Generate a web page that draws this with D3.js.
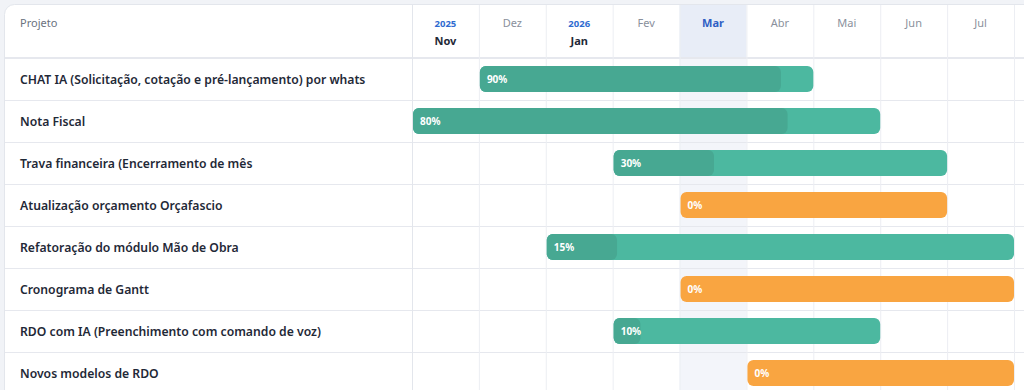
<!DOCTYPE html>
<html>
<head>
<meta charset="utf-8">
<script src="https://cdn.jsdelivr.net/npm/d3@7"></script>
<style>
  html, body { margin: 0; padding: 0; background: #f1f3f7; overflow: hidden; }
  svg { display: block; font-family: "Noto Sans", "Open Sans", sans-serif; }
</style>
</head>
<body>
<svg id="chart"></svg>
<script>
var width = 1024;
var height = 390;

// months shown on the timeline (index 0 = Nov 2025)
var months = ["Nov", "Dez", "Jan", "Fev", "Mar", "Abr", "Mai", "Jun", "Jul"];
var yearMarks = { 0: "2025", 2: "2026" };
var currentMonth = 4; // Mar

var projects = [
    "CHAT IA (Solicitação, cotação e pré-lançamento) por whats",
    "Nota Fiscal",
    "Trava financeira (Encerramento de mês",
    "Atualização orçamento Orçafascio",
    "Refatoração do módulo Mão de Obra",
    "Cronograma de Gantt",
    "RDO com IA (Preenchimento com comando de voz)",
    "Novos modelos de RDO"
];
// start / end as month index (end exclusive)
var startMonth = [1, 0, 3, 4, 2, 4, 3, 5];
var endMonth   = [6, 7, 8, 8, 9, 9, 7, 9];
var progress   = [90, 80, 30, 0, 15, 0, 10, 0];

var labelW = 412;
var headerTop = 4;
var headerBottom = 58;
var rowH = 42;

var svg = d3.select("#chart").attr("width", width).attr("height", height);

var x = d3.scaleLinear().domain([0, 9]).range([labelW, 1014]);
var y = d3.scaleBand().domain(projects).range([headerBottom, headerBottom + rowH * projects.length]);

// card
svg.append("rect")
    .attr("x", 4.5).attr("y", headerTop + 0.5)
    .attr("width", 1040).attr("height", 420)
    .attr("rx", 10)
    .attr("fill", "#fff")
    .attr("stroke", "#e3e6ec");

// current month highlight
svg.append("rect")
    .attr("x", x(currentMonth)).attr("y", headerTop + 1)
    .attr("width", x(currentMonth + 1) - x(currentMonth))
    .attr("height", headerBottom - headerTop - 1)
    .attr("fill", "#e8edf7");
svg.append("rect")
    .attr("x", x(currentMonth)).attr("y", headerBottom)
    .attr("width", x(currentMonth + 1) - x(currentMonth))
    .attr("height", height - headerBottom)
    .attr("fill", "#f3f5fa");

// horizontal row lines
svg.selectAll(".rowline")
    .data(projects)
    .enter()
    .append("line")
    .attr("class", "rowline")
    .attr("x1", 5).attr("x2", width)
    .attr("y1", function (d) { return y(d) + rowH + 0.5; })
    .attr("y2", function (d) { return y(d) + rowH + 0.5; })
    .attr("stroke", "#e6e8ee");

svg.append("line")
    .attr("x1", 5).attr("x2", width)
    .attr("y1", headerBottom).attr("y2", headerBottom)
    .attr("stroke", "#e6e8ee").attr("stroke-width", 2);

// vertical month lines (one extra for the clipped column on the right)
svg.selectAll(".colline")
    .data(d3.range(0, months.length + 1))
    .enter()
    .append("line")
    .attr("class", "colline")
    .attr("x1", function (d) { return x(d) + 0.5; })
    .attr("x2", function (d) { return x(d) + 0.5; })
    .attr("y1", headerTop + 1).attr("y2", height)
    .attr("stroke", function (d) { return d === 0 ? "#e3e6ec" : "#eceef3"; });

// header
svg.append("text")
    .attr("x", 20).attr("y", 27)
    .attr("font-size", 11)
    .attr("fill", "#6b7280")
    .text("Projeto");

var mg = svg.selectAll(".month")
    .data(months)
    .enter()
    .append("g")
    .attr("class", "month")
    .attr("transform", function (d, i) { return "translate(" + (x(i) + x(i + 1)) / 2 + ",0)"; });

mg.append("text")
    .attr("text-anchor", "middle")
    .attr("y", function (d, i) { return yearMarks[i] ? 45 : 27; })
    .attr("font-size", 11)
    .attr("font-weight", function (d, i) { return yearMarks[i] || i === currentMonth ? 700 : 400; })
    .attr("fill", function (d, i) {
        if (i === currentMonth) return "#2f5fc4";
        return yearMarks[i] ? "#1f2937" : "#8a909c";
    })
    .text(function (d) { return d; });

mg.filter(function (d, i) { return yearMarks[i]; })
    .append("text")
    .attr("text-anchor", "middle")
    .attr("y", 27)
    .attr("font-size", 9.5)
    .attr("font-weight", 700)
    .attr("fill", "#2f6bd0")
    .text(function (d) { return yearMarks[months.indexOf(d)]; });

// project labels
svg.selectAll(".plabel")
    .data(projects)
    .enter()
    .append("text")
    .attr("class", "plabel")
    .attr("x", 20)
    .attr("y", function (d) { return y(d) + rowH / 2 + 4.5; })
    .attr("font-size", 12.2)
    .attr("font-weight", 600)
    .attr("fill", "#1f2937")
    .text(function (d) { return d; });

// bars
var barH = 26;
var bars = svg.selectAll(".bar")
    .data(projects)
    .enter()
    .append("g")
    .attr("class", "bar")
    .attr("transform", function (d) { return "translate(0," + (y(d) + (rowH - barH) / 2) + ")"; });

bars.append("rect")
    .attr("x", function (d, i) { return x(startMonth[i]) + 1; })
    .attr("width", function (d, i) { return x(endMonth[i]) - x(startMonth[i]) - 1; })
    .attr("height", barH)
    .attr("rx", 6)
    .attr("fill", function (d, i) { return progress[i] > 0 ? "#4cb8a0" : "#f9a541"; });

bars.filter(function (d, i) { return progress[i] > 0; })
    .append("rect")
    .attr("x", function (d) { var i = projects.indexOf(d); return x(startMonth[i]) + 1; })
    .attr("width", function (d) {
        var i = projects.indexOf(d);
        return (x(endMonth[i]) - x(startMonth[i])) * progress[i] / 100;
    })
    .attr("height", barH)
    .attr("rx", 6)
    .attr("fill", "#47a892");

bars.append("text")
    .attr("x", function (d, i) { return x(startMonth[i]) + 8; })
    .attr("y", barH / 2 + 3.5)
    .attr("font-size", 10)
    .attr("font-weight", 700)
    .attr("fill", "#fff")
    .text(function (d, i) { return progress[i] + "%"; });
</script>
</body>
</html>
